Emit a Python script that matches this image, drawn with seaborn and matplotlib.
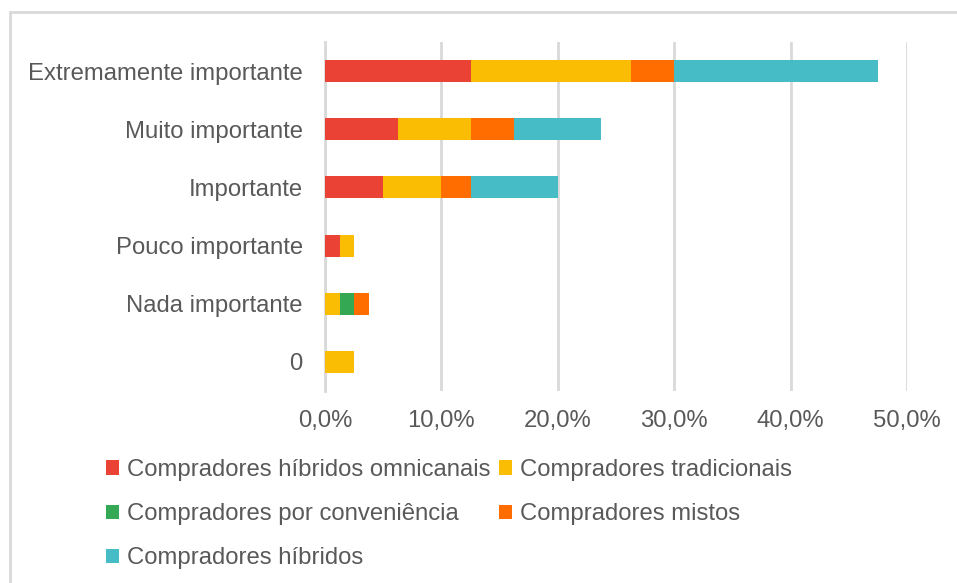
import matplotlib
matplotlib.use("Agg")
import matplotlib.pyplot as plt
from matplotlib.patches import Patch, Rectangle
from matplotlib.ticker import FuncFormatter, MultipleLocator
import numpy as np
import pandas as pd
import seaborn as sns

# Importance levels (top to bottom) and share of respondents (%) per shopper profile
categories = ["Extremamente importante", "Muito importante", "Importante",
              "Pouco importante", "Nada importante", "0"]
hibridos_omnicanais = [12.5, 6.25, 5.0, 1.25, 0.0, 0.0]
tradicionais = [13.75, 6.25, 5.0, 1.25, 1.25, 2.5]
por_conveniencia = [0.0, 0.0, 0.0, 0.0, 1.25, 0.0]
mistos = [3.75, 3.75, 2.5, 0.0, 1.25, 0.0]
hibridos = [17.5, 7.5, 7.5, 0.0, 0.0, 0.0]

series_names = ["Compradores híbridos omnicanais", "Compradores tradicionais",
                "Compradores por conveniência", "Compradores mistos",
                "Compradores híbridos"]
series_values = [hibridos_omnicanais, tradicionais, por_conveniencia, mistos, hibridos]
series_colors = ["#EA4335", "#FBBC04", "#34A853", "#FF6D01", "#46BDC6"]

TEXT = "#595959"
GRID = "#D9D9D9"

sns.set_theme(style="white")
plt.rcParams["font.family"] = ["Liberation Sans", "DejaVu Sans"]

fig = plt.figure(figsize=(9.57, 5.83), dpi=100)
W, H = 957, 583
ax = fig.add_axes([325 / W, 1 - 391 / H, (907 - 325) / W, (391 - 42) / H])

# Stacked bars: draw cumulative totals from the outermost layer inward
data = pd.DataFrame({name: vals for name, vals in zip(series_names, series_values)},
                    index=categories)
cum = data.cumsum(axis=1) / 100.0
for name, color in reversed(list(zip(series_names, series_colors))):
    sns.barplot(x=cum[name].values, y=categories, orient="h", color=color,
                width=0.38, saturation=1, ax=ax, linewidth=0, zorder=3)

ax.set_xlim(0, 0.5)
ax.set_ylim(5.5, -0.5)
ax.xaxis.set_major_locator(MultipleLocator(0.1))
ax.xaxis.set_major_formatter(FuncFormatter(lambda v, p: f"{v * 100:.1f}%".replace(".", ",")))
ax.grid(axis="x", color=GRID, linewidth=2, zorder=0)
ax.set_axisbelow(True)
for side in ["top", "right", "bottom"]:
    ax.spines[side].set_visible(False)
ax.spines["left"].set_color(GRID)
ax.spines["left"].set_linewidth(2)
ax.spines["left"].set_zorder(1)
ax.set_xlabel("")
ax.set_ylabel("")
ax.tick_params(axis="x", length=0, pad=14, labelsize=17.2, labelcolor=TEXT)
ax.tick_params(axis="y", length=0, pad=16, labelsize=17.2, labelcolor=TEXT)

# Legend: rows are (omnicanais, tradicionais), (conveniência, mistos), (híbridos)
handles = {n: Patch(facecolor=c, edgecolor="none") for n, c in zip(series_names, series_colors)}
order = [series_names[0], series_names[2], series_names[4], series_names[1], series_names[3]]
fig.legend([handles[n] for n in order], order, loc="upper left",
           bbox_to_anchor=(106 / W, 1 - 459 / H), ncol=2, frameon=False,
           fontsize=17.2, labelcolor=TEXT, handlelength=0.55, handleheight=0.55,
           handletextpad=0.33, columnspacing=0.35, labelspacing=0.93, borderpad=0,
           borderaxespad=0)

# Chart area border
fig.patches.append(Rectangle((10 / W, -0.1), 1.2, 1 - 12 / H + 0.1,
                             transform=fig.transFigure, fill=False,
                             edgecolor="#D9D9D9", linewidth=2))

fig.savefig("out.png", dpi=100, facecolor="white")
